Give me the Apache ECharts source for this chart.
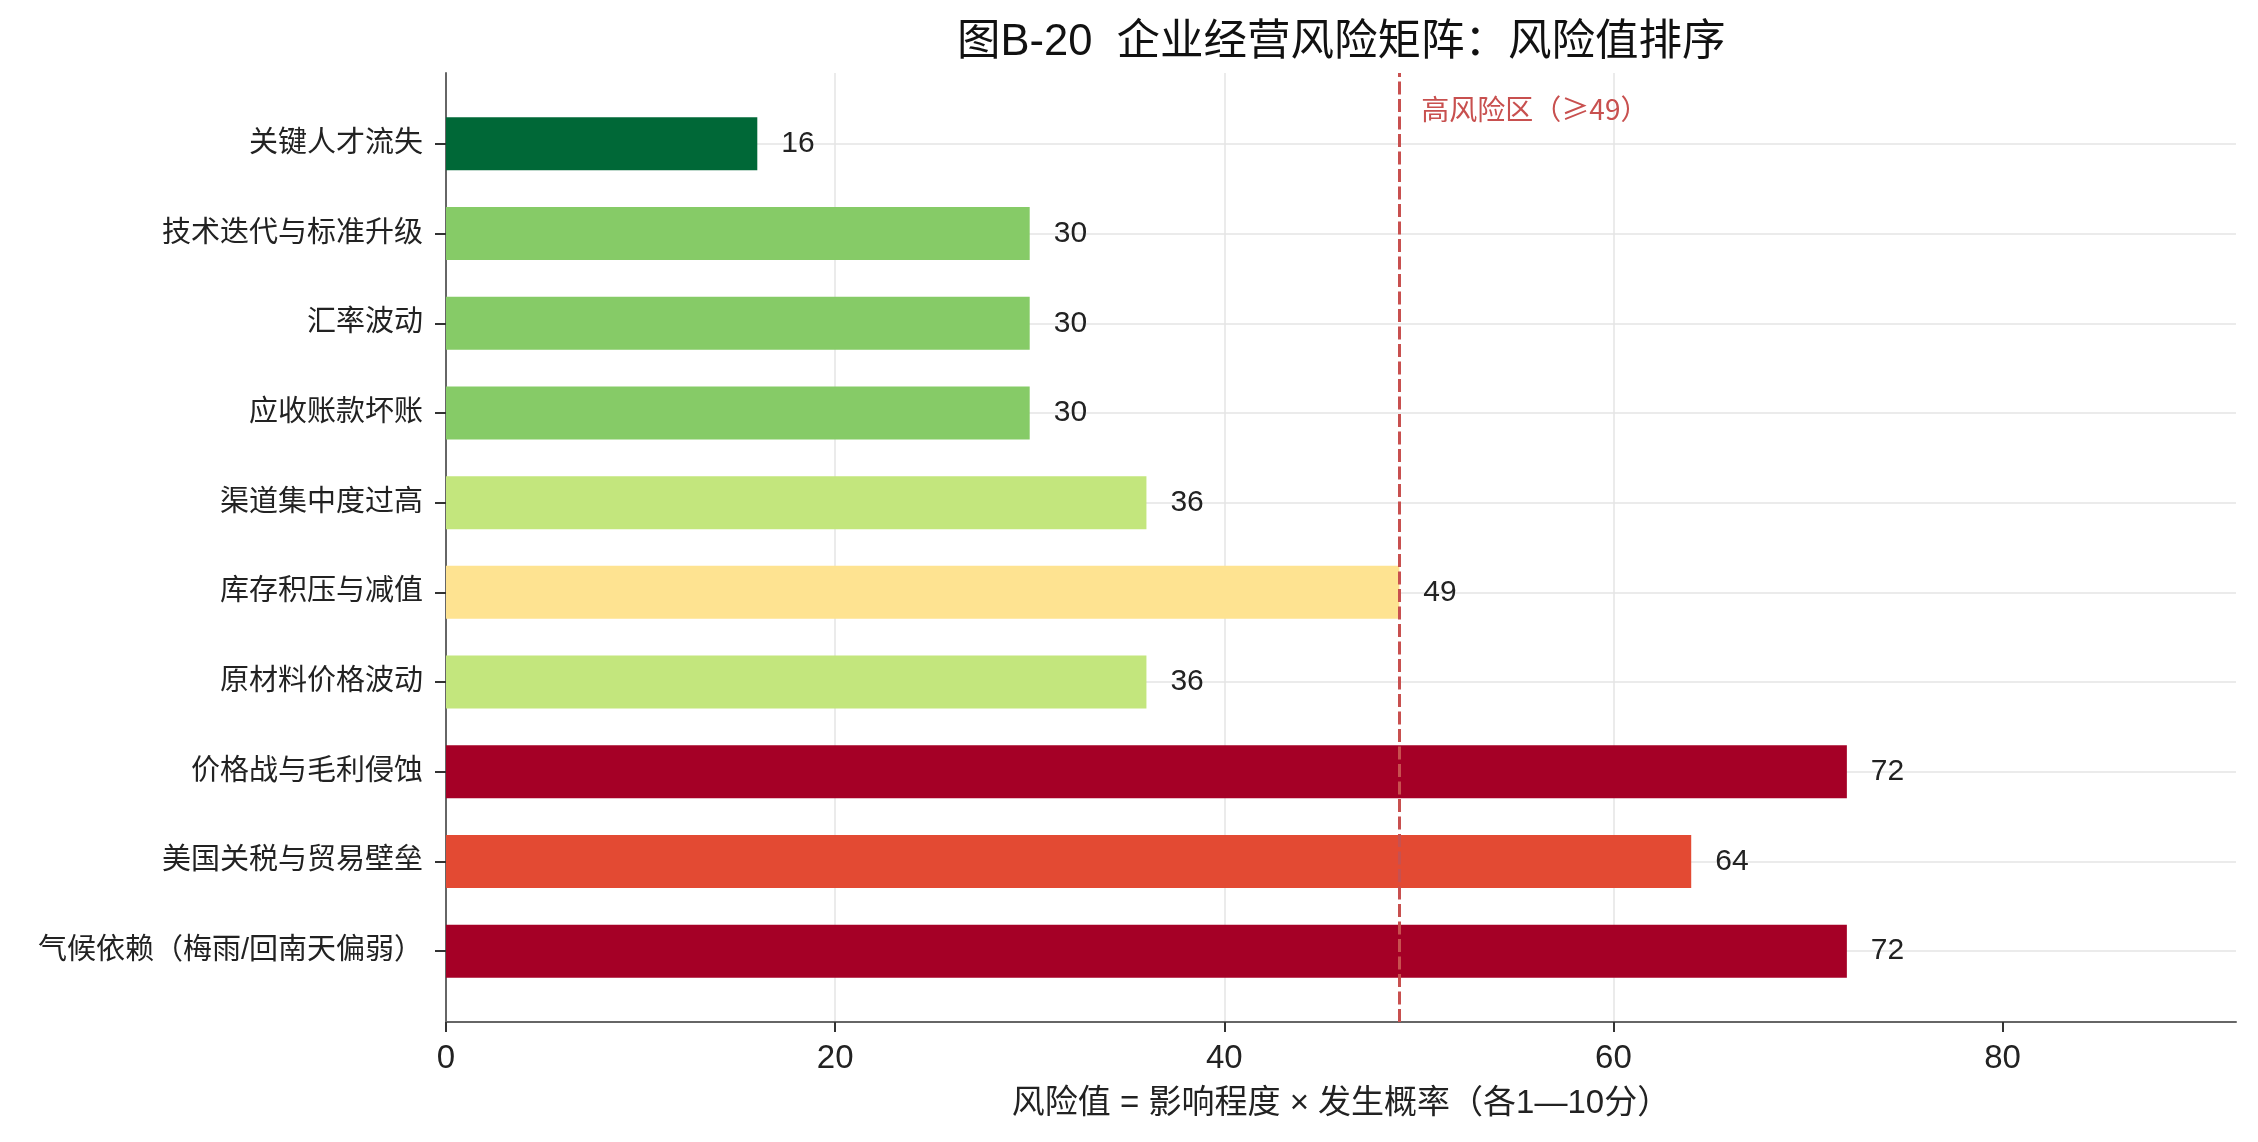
<!DOCTYPE html>
<html>
<head>
<meta charset="utf-8">
<script src="https://cdn.jsdelivr.net/npm/echarts@6/dist/echarts.min.js"></script>
<style>
html, body { margin: 0; padding: 0; background: #fff; }
#chartContainer { width: 2258px; height: 1142px; }
</style>
</head>
<body>
<div id="chartContainer"></div>
<script>
// data, top to bottom as in the figure
const categories = [
    '关键人才流失',
    '技术迭代与标准升级',
    '汇率波动',
    '应收账款坏账',
    '渠道集中度过高',
    '库存积压与减值',
    '原材料价格波动',
    '价格战与毛利侵蚀',
    '美国关税与贸易壁垒',
    '气候依赖（梅雨/回南天偏弱）'
];
const riskValues = [16, 30, 30, 30, 36, 49, 36, 72, 64, 72];
const xTicks = [0, 20, 40, 60, 80];
const xMax = 92;
const highRiskThreshold = 49;

// RdYlGn reversed (red = high risk)
const rdYlGnReversed = ['#006837', '#1a9850', '#66bd63', '#a6d96a', '#d9ef8b', '#ffffbf',
    '#fee08b', '#fdae61', '#f46d43', '#d73027', '#a50026'];

const FONT = '"Liberation Sans", "Noto Sans CJK SC", sans-serif';
const CJK_FONT = '"Noto Sans CJK SC", "Noto Sans", sans-serif';
const GRID_LINE = { color: '#e4e4e4', width: 1.5 };
const RED = '#c8504f';

var myChart = echarts.init(document.getElementById('chartContainer'), null, { renderer: 'canvas' });

let options = {
    animation: false,
    textStyle: { fontFamily: FONT },
    title: {
        text: '图B-20  企业经营风险矩阵：风险值排序',
        left: 957,
        top: 21,
        padding: 0,
        textStyle: { fontFamily: FONT, fontSize: 43.5, fontWeight: 'normal', color: '#111' }
    },
    visualMap: {
        type: 'continuous',
        show: false,
        seriesIndex: 0,
        dimension: 0,
        min: Math.min(...riskValues),
        max: Math.max(...riskValues),
        inRange: { color: rdYlGnReversed }
    },
    // grid 0 = full axes frame, grid 1 = band area for the bars
    grid: [
        { left: 446, right: 22, top: 73, bottom: 120 },
        { left: 446, right: 22, top: 99, bottom: 146 }
    ],
    xAxis: [{
        gridIndex: 0,
        type: 'value',
        min: 0,
        max: xMax,
        axisLine: { show: true, lineStyle: { color: '#666', width: 2 } },
        axisTick: { show: true, customValues: xTicks, length: 10, lineStyle: { color: '#333', width: 2 } },
        axisLabel: { customValues: xTicks, margin: 20, fontSize: 33, color: '#222', fontFamily: FONT },
        splitLine: { show: true, showMaxLine: false, lineStyle: GRID_LINE },
        name: '风险值 = 影响程度 × 发生概率（各1—10分）',
        nameLocation: 'middle',
        nameGap: 65,
        nameTextStyle: { fontSize: 33, color: '#222', fontFamily: FONT }
    }, {
        gridIndex: 1,
        type: 'value',
        min: 0,
        max: xMax,
        show: false
    }],
    yAxis: [{
        gridIndex: 0,
        type: 'value',
        min: 0,
        max: 1,
        axisLine: { show: true, lineStyle: { color: '#666', width: 2 } },
        axisTick: { show: false },
        axisLabel: { show: false },
        splitLine: { show: false }
    }, {
        gridIndex: 1,
        type: 'category',
        data: categories,
        inverse: true,
        axisLine: { show: false },
        axisTick: { show: true, alignWithLabel: true, length: 11, lineStyle: { color: '#333', width: 2 } },
        axisLabel: { margin: 23, fontSize: 29, color: '#222', fontFamily: FONT },
        splitLine: { show: true, alignWithLabel: true, lineStyle: GRID_LINE }
    }],
    series: [{
        name: '风险值',
        type: 'bar',
        xAxisIndex: 1,
        yAxisIndex: 1,
        barWidth: 53,
        data: riskValues.map((v, i) => [v, categories[i]]),
        label: {
            show: true,
            position: 'right',
            distance: 24,
            fontSize: 30,
            color: '#222',
            fontFamily: FONT,
            formatter: p => p.value[0]
        },
        emphasis: { disabled: true }
    }, {
        type: 'line',
        xAxisIndex: 0,
        yAxisIndex: 0,
        data: [],
        z: 5,
        markLine: {
            silent: true,
            animation: false,
            symbol: ['none', 'none'],
            lineStyle: { color: RED, type: [13, 4.5], width: 3 },
            label: {
                show: true,
                position: 'end',
                formatter: '高风险区（≥' + highRiskThreshold + '）',
                align: 'left',
                verticalAlign: 'top',
                distance: [0, -22],
                padding: [0, 0, 0, 22],
                fontSize: 28,
                color: RED,
                fontFamily: CJK_FONT
            },
            emphasis: { disabled: true },
            data: [{ xAxis: highRiskThreshold }]
        }
    }]
};

myChart.setOption(options);
</script>
</body>
</html>
